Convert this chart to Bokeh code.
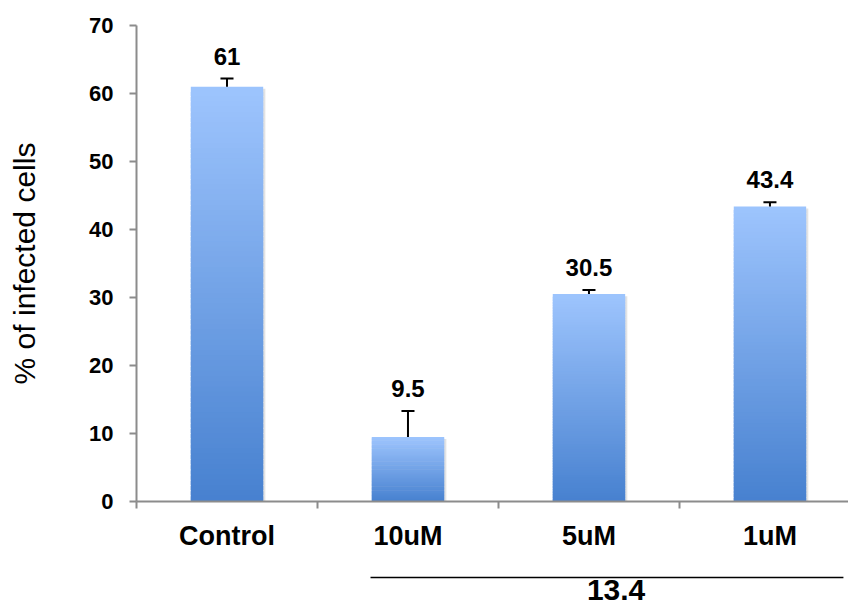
from bokeh.plotting import figure
from bokeh.layouts import column
from bokeh.models import Range1d, FixedTicker, ColumnDataSource
from bokeh.core.properties import value
from bokeh.embed import file_html
from bokeh.resources import INLINE

# ---- data ----
categories = ["Control", "10uM", "5uM", "1uM"]
percent_infected = [61.0, 9.5, 30.5, 43.4]
error_upper = [1.2, 3.8, 0.6, 0.6]
value_labels = ["61", "9.5", "30.5", "43.4"]
y_ticks = [0, 10, 20, 30, 40, 50, 60, 70]
group_label = "13.4"
group_members = ["10uM", "5uM", "1uM"]
y_title = "% of infected cells"

FONT = "Liberation Sans"
TOP_COLOR = (0x9d, 0xc4, 0xfd)
BOTTOM_COLOR = (0x46, 0x80, 0xcf)
BAR_W = 0.40
N_SLICES = 80

x_range = Range1d(0, 3.934)

p = figure(width=848, height=568, frame_width=712, frame_height=476,
           x_range=x_range, y_range=Range1d(0, 70),
           output_backend="svg", toolbar_location=None,
           min_border_left=136, min_border_right=0,
           min_border_top=25, min_border_bottom=67)
p.outline_line_color = None
p.grid.grid_line_color = None
p.background_fill_color = "white"
p.border_fill_color = "white"

# gradient bars
lefts, rights, tops, bottoms, colors = [], [], [], [], []
for i, v in enumerate(percent_infected):
    c = i + 0.5
    for k in range(N_SLICES):
        b = v * k / N_SLICES
        t = v * (k + 1) / N_SLICES
        f = (k + 0.5) / N_SLICES  # 0 bottom -> 1 top
        rgb = tuple(int(round(BOTTOM_COLOR[j] + (TOP_COLOR[j] - BOTTOM_COLOR[j]) * f)) for j in range(3))
        lefts.append(c - BAR_W / 2)
        rights.append(c + BAR_W / 2)
        bottoms.append(b - (v / N_SLICES) * 0.8 if k > 0 else b)
        tops.append(t)
        colors.append("#%02x%02x%02x" % rgb)

# soft shadow
centers = [i + 0.5 for i in range(len(categories))]
p.quad(left=[c - BAR_W / 2 + 0.012 for c in centers], right=[c + BAR_W / 2 + 0.012 for c in centers],
       bottom=[0] * len(centers), top=[v - 0.3 for v in percent_infected],
       fill_color="#b0b0b0", fill_alpha=0.35, line_color=None)
p.quad(left=lefts, right=rights, bottom=bottoms, top=tops,
       fill_color=colors, line_color=None)

# error bars (upper only)
err_top = [v + e for v, e in zip(percent_infected, error_upper)]
p.segment(x0=centers, y0=percent_infected, x1=centers, y1=err_top,
          line_color="black", line_width=2)
p.segment(x0=[c - 0.036 for c in centers], y0=err_top, x1=[c + 0.036 for c in centers], y1=err_top,
          line_color="black", line_width=2)

# value labels
src = ColumnDataSource(dict(x=centers, y=err_top, t=value_labels))
p.text(x="x", y="y", text="t", source=src, text_align="center", text_baseline="bottom",
       y_offset=-14, text_font=value(FONT), text_font_style="bold",
       text_font_size="24px", text_color="black")

# axes
AX = "#8c8c8c"
p.yaxis.ticker = FixedTicker(ticks=y_ticks, minor_ticks=[])
p.yaxis.axis_line_color = AX
p.yaxis.axis_line_width = 2
p.yaxis.major_tick_line_color = AX
p.yaxis.major_tick_line_width = 2
p.yaxis.major_tick_out = 7
p.yaxis.major_tick_in = 0
p.yaxis.major_label_standoff = 16
p.yaxis.major_label_text_font = FONT
p.yaxis.major_label_text_font_style = "bold"
p.yaxis.major_label_text_font_size = "22px"
p.yaxis.major_label_text_color = "black"
p.yaxis.axis_label = y_title
p.yaxis.axis_label_text_font = FONT
p.yaxis.axis_label_text_font_style = "normal"
p.yaxis.axis_label_text_font_size = "30px"
p.yaxis.axis_label_text_color = "black"
p.yaxis.axis_label_standoff = 45

p.xaxis.ticker = FixedTicker(ticks=centers, minor_ticks=list(range(len(categories) + 1)))
p.xaxis.major_label_overrides = {c: name for c, name in zip(centers, categories)}
p.xaxis.axis_line_color = AX
p.xaxis.axis_line_width = 2
p.xaxis.major_tick_line_color = None
p.xaxis.major_tick_out = 0
p.xaxis.major_tick_in = 0
p.xaxis.minor_tick_line_color = AX
p.xaxis.minor_tick_line_width = 2
p.xaxis.minor_tick_out = 7
p.xaxis.minor_tick_in = 0
p.xaxis.major_label_standoff = 12
p.xaxis.major_label_text_font = FONT
p.xaxis.major_label_text_font_style = "bold"
p.xaxis.major_label_text_font_size = "27px"
p.xaxis.major_label_text_color = "black"

# group bracket figure
p2 = figure(width=848, height=38, frame_width=712, frame_height=38,
            x_range=x_range, y_range=Range1d(38, 0),
            output_backend="svg", toolbar_location=None,
            min_border_left=136, min_border_right=0, min_border_top=0, min_border_bottom=0)
p2.axis.visible = False
p2.grid.grid_line_color = None
p2.outline_line_color = None
idx = [categories.index(m) for m in group_members]
gx0 = idx[0] + 0.5 - BAR_W / 2 - 0.007
gx1 = idx[-1] + 1 - 0.094
p2.segment(x0=[gx0], y0=[9], x1=[gx1], y1=[9], line_color="black", line_width=1.5)
gcenter = sum(i + 0.5 for i in idx) / len(idx) + 0.15
p2.text(x=[gcenter], y=[11], text=[group_label], text_align="center", text_baseline="top",
        text_font=value(FONT), text_font_style="bold", text_font_size="30px", text_color="black")

layout = column(p, p2, spacing=0)
open("out.html", "w").write(file_html(layout, INLINE))
